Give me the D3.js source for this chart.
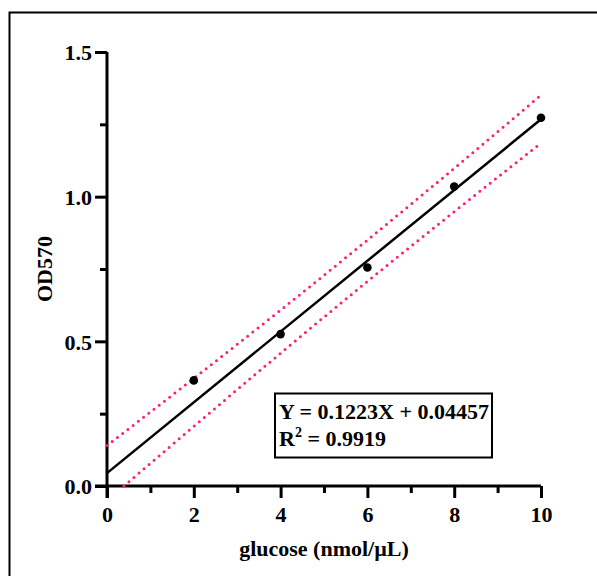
<!DOCTYPE html>
<html>
<head>
<meta charset="utf-8">
<script src="https://cdn.jsdelivr.net/npm/d3@7"></script>
<style>
  body { margin: 0; background: #fff; }
  svg text { font-family: "Liberation Serif", "Times New Roman", serif; font-weight: bold; fill: #000; }
</style>
</head>
<body>
<div id="viz"></div>
<script>
// Data
const glucose = [2, 4, 6, 8, 10];
const od570 = [0.365, 0.525, 0.755, 1.035, 1.273];
// Fit line Y = 0.1223X + 0.04457 (end points)
const fitX = [0, 10];
const fitY = [0.04457, 1.26757];
// Dotted band lines, read at a few x values
const upperX = [0, 2, 4, 6, 8, 10];
const upperY = [0.140, 0.372, 0.608, 0.850, 1.098, 1.351];
const lowerX = [0.39, 2, 4, 6, 8, 10];
const lowerY = [0.0, 0.206, 0.459, 0.707, 0.948, 1.185];
// Tick values
const xMajor = [0, 2, 4, 6, 8, 10];
const xMinor = [1, 3, 5, 7, 9];
const yMajor = [0.0, 0.5, 1.0, 1.5];
const yMinor = [0.25, 0.75, 1.25];
const eqLine1 = "Y = 0.1223X + 0.04457";
const eqR2 = " = 0.9919";

const width = 597;
const height = 576;
const margin = {top: 52, left: 107, right: 56, bottom: 90};
const bandColor = "#ff1f6e";
const fontSize = 22;

const svg = d3.select("#viz").append("svg")
  .attr("width", width)
  .attr("height", height);

// outer frame (runs off the right and bottom of the picture)
svg.append("rect")
  .attr("x", 9.5).attr("y", 12.5)
  .attr("width", 700).attr("height", 700)
  .attr("fill", "none")
  .attr("stroke", "#000")
  .attr("stroke-width", 2);

const xScale = d3.scaleLinear().domain([0, 10]).range([margin.left, width - margin.right]);
const yScale = d3.scaleLinear().domain([0, 1.5]).range([height - margin.bottom, margin.top]);

// x axis
const xAxisG = svg.append("g")
  .attr("transform", "translate(0," + yScale(0) + ")")
  .call(d3.axisBottom(xScale).tickValues(xMajor).tickSize(12).tickPadding(7).tickFormat(d3.format("d")));
svg.append("g")
  .attr("transform", "translate(0," + yScale(0) + ")")
  .call(d3.axisBottom(xScale).tickValues(xMinor).tickSize(7).tickFormat(""))
  .select(".domain").remove();

// y axis
const yAxisG = svg.append("g")
  .attr("transform", "translate(" + xScale(0) + ",0)")
  .call(d3.axisLeft(yScale).tickValues(yMajor).tickSize(12).tickPadding(3).tickFormat(d3.format(".1f")));
svg.append("g")
  .attr("transform", "translate(" + xScale(0) + ",0)")
  .call(d3.axisLeft(yScale).tickValues(yMinor).tickSize(7).tickFormat(""))
  .select(".domain").remove();

svg.selectAll(".domain").attr("stroke-width", 3);
xAxisG.select(".domain").attr("d", "M" + (xScale(0) - 12) + ",0H" + xScale(10));
yAxisG.select(".domain").attr("d", "M0," + (yScale(0) + 12) + "V" + yScale(1.5));
svg.selectAll(".tick line").attr("stroke-width", 3);
svg.selectAll(".tick text").style("font-size", fontSize + "px");
yAxisG.selectAll(".tick text").attr("dy", "0.35em");
xAxisG.selectAll(".tick text").attr("dy", "0.75em");

// axis titles
svg.append("text")
  .attr("x", (xScale(0) + xScale(10)) / 2)
  .attr("y", 556)
  .attr("text-anchor", "middle")
  .style("font-size", fontSize + "px")
  .text("glucose (nmol/µL)");

svg.append("text")
  .attr("transform", "translate(52," + yScale(0.75) + ") rotate(-90)")
  .attr("text-anchor", "middle")
  .style("font-size", fontSize + "px")
  .text("OD570");

// bands
const line = d3.line().x(d => xScale(d[0])).y(d => yScale(d[1])).curve(d3.curveMonotoneX);
[d3.zip(upperX, upperY), d3.zip(lowerX, lowerY)].forEach(pts => {
  svg.append("path")
    .attr("d", line(pts))
    .attr("fill", "none")
    .attr("stroke", bandColor)
    .attr("stroke-width", 3)
    .attr("stroke-linecap", "round")
    .attr("stroke-dasharray", "0 6.6");
});

// fit line
svg.append("path")
  .attr("d", d3.line().x(d => xScale(d[0])).y(d => yScale(d[1]))(d3.zip(fitX, fitY)))
  .attr("fill", "none")
  .attr("stroke", "#000")
  .attr("stroke-width", 2.5);

// points
svg.selectAll(".pt")
  .data(d3.zip(glucose, od570))
  .enter().append("circle")
  .attr("class", "pt")
  .attr("cx", d => xScale(d[0]))
  .attr("cy", d => yScale(d[1]))
  .attr("r", 4.3)
  .attr("fill", "#000");

// equation box
svg.append("rect")
  .attr("x", 275).attr("y", 393.5)
  .attr("width", 217).attr("height", 64)
  .attr("fill", "#fff")
  .attr("stroke", "#000")
  .attr("stroke-width", 2);

svg.append("text")
  .attr("x", 279).attr("y", 419)
  .style("font-size", fontSize + "px")
  .text(eqLine1);

const r2 = svg.append("text")
  .attr("x", 279).attr("y", 446)
  .style("font-size", fontSize + "px");
r2.append("tspan").text("R");
r2.append("tspan").attr("dy", -9).style("font-size", "14px").text("2");
r2.append("tspan").attr("dy", 9).text(eqR2);
</script>
</body>
</html>
